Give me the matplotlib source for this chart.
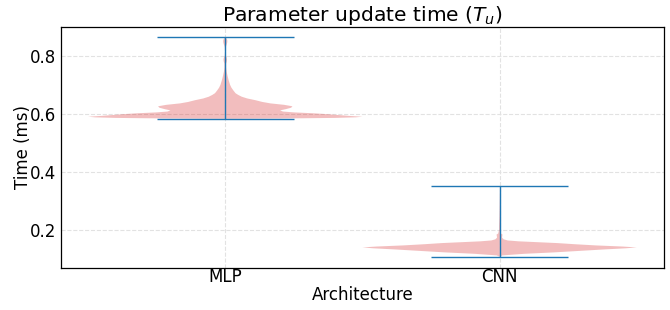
import numpy as np
import matplotlib
matplotlib.use("Agg")
import matplotlib.pyplot as plt

# Architectures on the x axis
architectures = ["MLP", "CNN"]

# Extrema (ms)
mlp_min, mlp_max = 0.583, 0.863
cnn_min, cnn_max = 0.108, 0.3525

# Density profile of each violin (time value -> relative width)
mlp_coords = [0.583, 0.584, 0.586, 0.588, 0.590, 0.593, 0.596, 0.599, 0.602, 0.605, 0.608,
              0.612, 0.616, 0.621, 0.626, 0.631, 0.636, 0.641, 0.647, 0.653, 0.659,
              0.665, 0.671, 0.680, 0.690, 0.700, 0.715, 0.730, 0.745, 0.760, 0.772,
              0.780, 0.787, 0.794, 0.800, 0.815, 0.830, 0.840, 0.847, 0.853, 0.858, 0.863]
mlp_vals = [0.02, 0.40, 0.80, 0.95, 1.00, 0.90, 0.82, 0.74, 0.64, 0.50, 0.42,
            0.40, 0.44, 0.48, 0.49, 0.43, 0.33, 0.27, 0.22, 0.16, 0.12,
            0.095, 0.075, 0.060, 0.045, 0.035, 0.025, 0.017, 0.010, 0.006, 0.006,
            0.011, 0.013, 0.010, 0.004, 0.002, 0.004, 0.011, 0.015, 0.015, 0.011, 0.0]

cnn_coords = [0.108, 0.1125, 0.118, 0.123, 0.128, 0.133, 0.137, 0.140, 0.143,
              0.147, 0.151, 0.155, 0.158, 0.161, 0.164, 0.168, 0.174, 0.180, 0.184, 0.188,
              0.200, 0.250, 0.300, 0.3525]
cnn_vals = [0.0, 0.02, 0.18, 0.40, 0.58, 0.76, 0.92, 1.00, 0.90,
            0.70, 0.55, 0.42, 0.28, 0.14, 0.06, 0.03, 0.018, 0.020, 0.022, 0.010,
            0.004, 0.002, 0.001, 0.0]


def stats(coords, vals, lo, hi):
    return dict(coords=np.array(coords), vals=np.array(vals),
                mean=np.mean(coords), median=np.median(coords), min=lo, max=hi)


vpstats = [stats(mlp_coords, mlp_vals, mlp_min, mlp_max),
           stats(cnn_coords, cnn_vals, cnn_min, cnn_max)]

fig = plt.figure(figsize=(6.7, 3.1), dpi=100)
ax = fig.add_axes([0.0906, 0.1365, 0.9006, 0.778])

parts = ax.violin(vpstats, positions=[1, 2], widths=1.0,
                  showmeans=False, showextrema=True, showmedians=False)
for body in parts["bodies"]:
    body.set_facecolor("#d62728")
    body.set_edgecolor("none")
    body.set_alpha(0.3)
for key in ["cmins", "cmaxes", "cbars"]:
    parts[key].set_color("#1f77b4")
    parts[key].set_linewidth(1.0)

ax.set_xticks([1, 2])
ax.set_xticklabels(architectures)
ax.set_yticks([0.2, 0.4, 0.6, 0.8])
ax.tick_params(length=0, labelsize=12)
ax.tick_params(axis="x", pad=0.5)
ax.tick_params(axis="y", pad=3)
ax.grid(True, color="#e2e2e2", linestyle="--", linewidth=0.8)
ax.set_axisbelow(True)
for s in ax.spines.values():
    s.set_linewidth(0.9)

ax.set_title("Parameter update time ($T_u$)", fontsize=14.6, pad=-0.5)
ax.set_xlabel("Architecture", fontsize=12, labelpad=0)
ax.set_ylabel("Time (ms)", fontsize=12, labelpad=-1)

fig.savefig("out.png", dpi=100)
